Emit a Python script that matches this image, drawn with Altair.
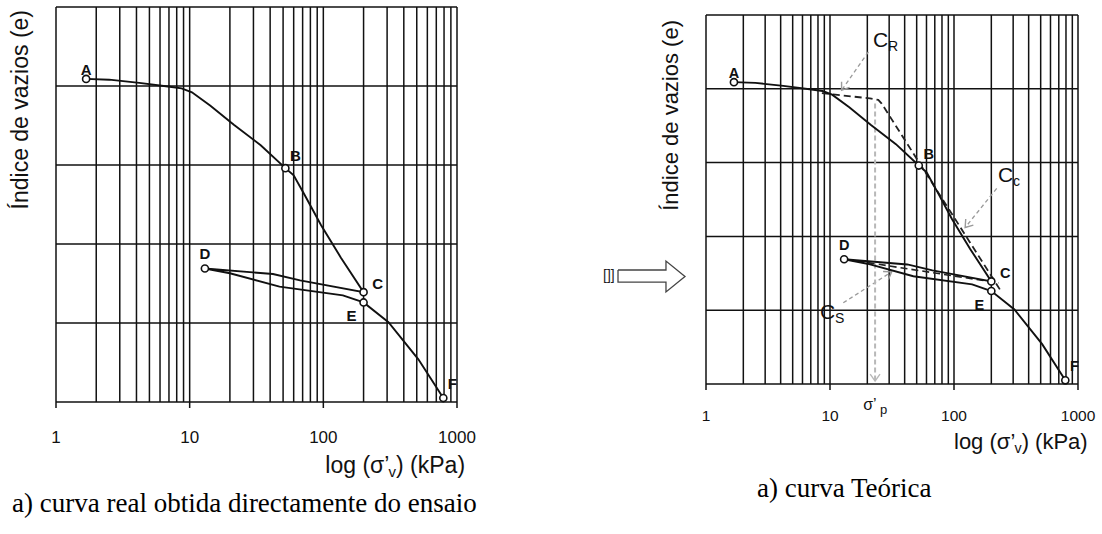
import math
import altair as alt
import pandas as pd

# ---------------- data ----------------
# oedometer curve: loading A->B->C, unloading C->D, reloading D->E, loading E->F
CURVE_SIGMA = [1.68, 2.5, 4.2, 7.1, 8.7, 10.4, 14.3, 21.4, 34, 52, 60, 72, 96, 135, 200,
               67, 42, 13, 20, 47, 140, 200, 307, 514, 790]
CURVE_E = [4.09, 4.08, 4.04, 3.99, 3.97, 3.92, 3.75, 3.51, 3.25, 2.96, 2.87, 2.63, 2.24, 1.83, 1.39,
           1.54, 1.62, 1.69, 1.63, 1.46, 1.35, 1.26, 1.01, 0.54, 0.05]
POINT_NAMES = ["A", "B", "C", "D", "E", "F"]
POINT_SIGMA = [1.68, 52, 200, 13, 200, 790]
POINT_E = [4.09, 2.96, 1.39, 1.69, 1.26, 0.05]

GRID_SIGMA = [1, 2, 3, 4, 5, 6, 7, 8, 9, 10, 20, 30, 40, 50, 60, 70, 80, 90, 100,
              200, 300, 400, 500, 600, 700, 800, 900, 1000]
GRID_E = [0, 1, 2, 3, 4, 5]
TICK_SIGMA = [1, 10, 100, 1000]
TICK_LABELS = ["1", "10", "100", "1000"]
X_TITLE = ["log (σ’", "v", ") (kPa)"]
Y_TITLE = "Índice de vazios (e)"
CAPTIONS = ["a) curva real obtida directamente do ensaio", "a) curva Teórica"]

# theoretical construction (right panel)
RC_SIGMA = [8.6, 21, 24.5, 26.1, 243]
RC_E = [3.94, 3.87, 3.85, 3.80, 1.24]
SW_SIGMA = [13.5, 229]
SW_E = [1.69, 1.37]
ARROW_SIGMA0 = [20.4, 221, 12.8, 23.1]
ARROW_E0 = [4.50, 2.65, 1.10, 3.80]
ARROW_SIGMA1 = [12.4, 123, 31.4, 23.1]
ARROW_E1 = [3.98, 2.12, 1.52, 0.04]
ANN_MAIN = ["C", "C", "C"]
ANN_SUB = ["R", "c", "S"]
ANN_SIGMA = [22.2, 226, 8.3]
ANN_E = [4.65, 2.82, 0.96]
SIGMA_P = 23.1
SIGMA_P_TEXT = ["σ’", "p"]

# hollow block arrow between the panels (outline, unit box)
BLOCK_X = [0.183, 0.768, 0.768, 1.0, 0.768, 0.768, 0.183, 0.183]
BLOCK_Y = [0.71, 0.71, 1.0, 0.5, 0.0, 0.32, 0.32, 0.71]
BLOCK_GLYPH = "[]]"

# ---------------- styles / layout ----------------
INK = "#111111"
SANS = "Liberation Sans"
SERIF = "Liberation Serif"
PANELS = [
    dict(xr=[56, 457], yr=[402, 7], tick_fs=17, tick_dy=41, title_fs=23, xt_dx=2, xt_dy=71,
         yt_dx=-3, yt_dy=-28, lab_fs=15, cap_dx=-44, cap_dy=110, caption=CAPTIONS[0]),
    dict(xr=[706, 1078], yr=[384, 15], tick_fs=15.5, tick_dy=36.5, title_fs=22, xt_dx=0, xt_dy=65,
         yt_dx=-5, yt_dy=-28.5, lab_fs=14.5, cap_dx=51, cap_dy=113, caption=CAPTIONS[1]),
]
LABEL_OFFSETS = {"A": (0, -4), "B": (10, -7), "C": (14, -3), "D": (0, -9), "E": (-12, 19), "F": (9, -9)}


def xs(p):
    return alt.Scale(type="log", domain=[1, 1000], range=p["xr"])


def ys(p):
    return alt.Scale(type="linear", domain=[0, 5], range=p["yr"], zero=False, nice=False)


def X(f, p):
    return alt.X(f, type="quantitative", scale=xs(p), axis=None)


def Y(f, p):
    return alt.Y(f, type="quantitative", scale=ys(p), axis=None)


def px(p, s, e):
    x = p["xr"][0] + math.log10(s) / 3 * (p["xr"][1] - p["xr"][0])
    y = p["yr"][0] + e / 5 * (p["yr"][1] - p["yr"][0])
    return x, y


layers = []
for p in PANELS:
    vgrid = pd.DataFrame({"s": GRID_SIGMA, "e0": GRID_E[0], "e1": GRID_E[-1]})
    layers.append(alt.Chart(vgrid).mark_rule(color=INK, strokeWidth=1.5).encode(
        x=X("s", p), y=Y("e0", p), y2="e1"))
    hgrid = pd.DataFrame({"e": GRID_E, "s0": GRID_SIGMA[0], "s1": GRID_SIGMA[-1]})
    layers.append(alt.Chart(hgrid).mark_rule(color=INK, strokeWidth=1.5).encode(
        y=Y("e", p), x=X("s0", p), x2="s1"))
    ticks = pd.DataFrame({"s": TICK_SIGMA, "e": GRID_E[0], "t": TICK_LABELS})
    layers.append(alt.Chart(ticks).mark_rule(color=INK, strokeWidth=1.5, y2Offset=6).encode(
        x=X("s", p), y=Y("e", p), y2="e"))
    layers.append(alt.Chart(ticks).mark_text(font=SANS, fontSize=p["tick_fs"], color=INK, align="center",
                                             baseline="alphabetic", dy=p["tick_dy"]).encode(
        x=X("s", p), y=Y("e", p), text="t"))
    # x title in pieces (subscript v)
    fs = p["title_fs"]
    w1 = 2.75 * fs
    wv = 0.5 * fs * 0.65
    pieces = [(X_TITLE[0], fs, p["xt_dx"], 0), (X_TITLE[1], fs * 0.65, p["xt_dx"] + w1, 4),
              (X_TITLE[2], fs, p["xt_dx"] + w1 + wv, 0)]
    for txt, f, dx, dy in pieces:
        d = pd.DataFrame({"s": [TICK_SIGMA[2]], "e": [GRID_E[0]], "t": [txt]})
        layers.append(alt.Chart(d).mark_text(font=SANS, fontSize=f, color=INK, align="left",
                                             baseline="alphabetic", dx=dx, dy=p["xt_dy"] + dy).encode(
            x=X("s", p), y=Y("e", p), text="t"))
    # y title
    d = pd.DataFrame({"s": [GRID_SIGMA[0]], "e": [GRID_E[-1]], "t": [Y_TITLE]})
    layers.append(alt.Chart(d).mark_text(font=SANS, fontSize=fs, color=INK, angle=270, align="right",
                                         baseline="alphabetic", dx=p["yt_dx"], dy=p["yt_dy"]).encode(
        x=X("s", p), y=Y("e", p), text="t"))
    # caption
    d = pd.DataFrame({"s": [GRID_SIGMA[0]], "e": [GRID_E[0]], "t": [p["caption"]]})
    layers.append(alt.Chart(d).mark_text(font=SERIF, fontSize=27, color="#000000", align="left",
                                         baseline="alphabetic", dx=p["cap_dx"], dy=p["cap_dy"]).encode(
        x=X("s", p), y=Y("e", p), text="t"))

    if p is PANELS[1]:
        # construction lines
        rc = pd.DataFrame({"s": RC_SIGMA, "e": RC_E, "i": range(len(RC_SIGMA))})
        layers.append(alt.Chart(rc).mark_line(color="#222222", strokeWidth=1.8, strokeDash=[7, 4]).encode(
            x=X("s", p), y=Y("e", p), order="i:Q"))
        sw = pd.DataFrame({"s": SW_SIGMA, "e": SW_E, "i": range(len(SW_SIGMA))})
        layers.append(alt.Chart(sw).mark_line(color="#222222", strokeWidth=1.6, strokeDash=[7, 4]).encode(
            x=X("s", p), y=Y("e", p), order="i:Q"))
        for k in range(len(ARROW_SIGMA0)):
            is_p = k == len(ARROW_SIGMA0) - 1
            col = "#b8b8b8" if is_p else "#9a9a9a"
            seg = pd.DataFrame({"s": [ARROW_SIGMA0[k], ARROW_SIGMA1[k]], "e": [ARROW_E0[k], ARROW_E1[k]],
                                "i": [0, 1]})
            layers.append(alt.Chart(seg).mark_line(color=col, strokeWidth=2.0 if is_p else 1.3,
                                                   strokeDash=[5, 3] if is_p else [4, 3]).encode(
                x=X("s", p), y=Y("e", p), order="i:Q"))
            x0, y0 = px(p, ARROW_SIGMA0[k], ARROW_E0[k])
            x1, y1 = px(p, ARROW_SIGMA1[k], ARROW_E1[k])
            ang = math.degrees(math.atan2(-(x1 - x0), (y1 - y0))) % 360
            head = pd.DataFrame({"s": [ARROW_SIGMA1[k]], "e": [ARROW_E1[k]]})
            layers.append(alt.Chart(head).mark_point(shape="M-0.7,-1L0,0L0.7,-1", filled=False, color=col,
                                                     strokeWidth=1.4, size=196, angle=round(ang, 1),
                                                     opacity=1).encode(
                x=X("s", p), y=Y("e", p)))
        for k in range(len(ANN_MAIN)):
            d = pd.DataFrame({"s": [ANN_SIGMA[k]], "e": [ANN_E[k]], "t": [ANN_MAIN[k]]})
            layers.append(alt.Chart(d).mark_text(font=SANS, fontSize=21, color=INK, align="left",
                                                 baseline="middle").encode(
                x=X("s", p), y=Y("e", p), text="t"))
            d = pd.DataFrame({"s": [ANN_SIGMA[k]], "e": [ANN_E[k]], "t": [ANN_SUB[k]]})
            layers.append(alt.Chart(d).mark_text(font=SANS, fontSize=14, color=INK, align="left",
                                                 baseline="middle", dx=15, dy=6).encode(
                x=X("s", p), y=Y("e", p), text="t"))
        d = pd.DataFrame({"s": [18.5], "e": [GRID_E[0]], "t": [SIGMA_P_TEXT[0]]})
        layers.append(alt.Chart(d).mark_text(font=SANS, fontSize=16, color=INK, align="left",
                                             baseline="alphabetic", dy=26).encode(
            x=X("s", p), y=Y("e", p), text="t"))
        d = pd.DataFrame({"s": [25.3], "e": [GRID_E[0]], "t": [SIGMA_P_TEXT[1]]})
        layers.append(alt.Chart(d).mark_text(font=SANS, fontSize=13, color=INK, align="left",
                                             baseline="alphabetic", dy=30).encode(
            x=X("s", p), y=Y("e", p), text="t"))

    curve = pd.DataFrame({"s": CURVE_SIGMA, "e": CURVE_E, "i": range(len(CURVE_SIGMA))})
    layers.append(alt.Chart(curve).mark_line(color=INK, strokeWidth=1.9).encode(
        x=X("s", p), y=Y("e", p), order="i:Q"))
    pts = pd.DataFrame({"s": POINT_SIGMA, "e": POINT_E, "n": POINT_NAMES})
    layers.append(alt.Chart(pts).mark_point(shape="circle", filled=True, fill="white", stroke=INK,
                                            strokeWidth=1.6, size=50, opacity=1).encode(
        x=X("s", p), y=Y("e", p)))
    for k, name in enumerate(POINT_NAMES):
        dx, dy = LABEL_OFFSETS[name]
        d = pd.DataFrame({"s": [POINT_SIGMA[k]], "e": [POINT_E[k]], "n": [name]})
        layers.append(alt.Chart(d).mark_text(font=SANS, fontSize=p["lab_fs"], fontWeight="bold", color=INK,
                                             align="center", baseline="alphabetic", dx=dx, dy=dy).encode(
            x=X("s", p), y=Y("e", p), text="n"))

# block arrow between panels
axs = alt.Scale(domain=[0, 1], range=[603, 685], zero=False, nice=False)
ays = alt.Scale(domain=[0, 1], range=[292, 261], zero=False, nice=False)
blk = pd.DataFrame({"x": BLOCK_X, "y": BLOCK_Y, "i": range(len(BLOCK_X))})
layers.append(alt.Chart(blk).mark_line(color="#444444", strokeWidth=1.3).encode(
    x=alt.X("x:Q", scale=axs, axis=None), y=alt.Y("y:Q", scale=ays, axis=None), order="i:Q"))
g = pd.DataFrame({"x": [0.0], "y": [0.516], "t": [BLOCK_GLYPH]})
layers.append(alt.Chart(g).mark_text(font=SANS, fontSize=14, color="#222222", align="left",
                                     baseline="middle").encode(
    x=alt.X("x:Q", scale=axs, axis=None), y=alt.Y("y:Q", scale=ays, axis=None), text="t"))

chart = alt.layer(*layers).resolve_scale(x="independent", y="independent").properties(
    width=1102, height=534, autosize=alt.AutoSizeParams(type="none"), padding=0, background="white"
).configure_view(stroke=None)

chart.save("out.html", embed_options={"renderer": "svg", "actions": False})
